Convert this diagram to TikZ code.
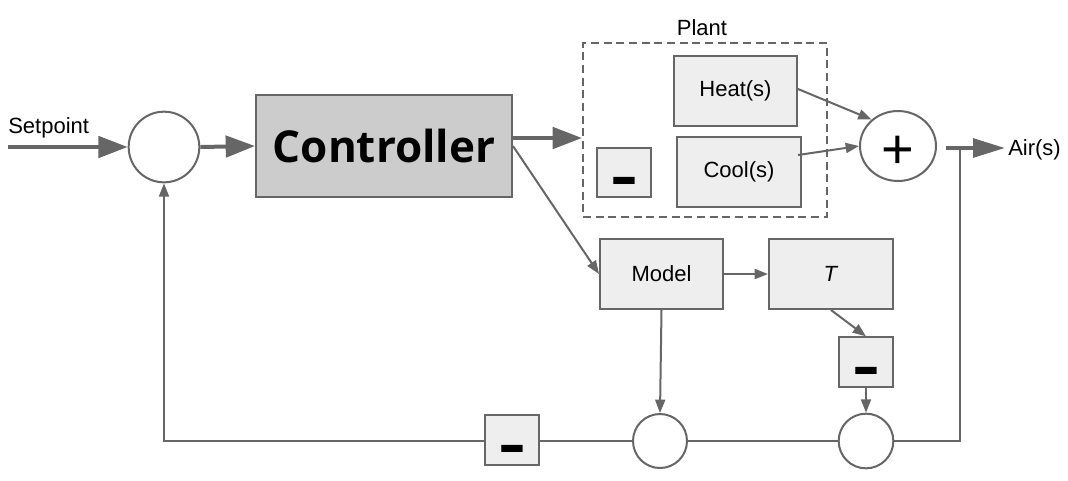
\documentclass[tikz,border=0pt]{standalone}
\usepackage{fontspec}
\usepackage{graphicx}
\setmainfont{Liberation Sans}
\newfontfamily\ctrlfont{Open Sans}
\usetikzlibrary{arrows.meta,shapes.geometric}
\definecolor{ln}{HTML}{666666}
\definecolor{bx}{HTML}{EEEEEE}
\definecolor{cb}{HTML}{CCCCCC}
\tikzset{
  lbl/.style={font=\fontsize{16.5pt}{19pt}\selectfont, text=black},
  blk/.style={draw=ln, line width=1.5pt, fill=bx, inner sep=0pt, lbl},
  minusbox/.style={blk, minimum width=40.5pt, minimum height=37pt, font=\fontsize{45pt}{50pt}\selectfont\bfseries},
  sumc/.style={draw=ln, line width=1.5pt, fill=white, circle, inner sep=0pt},
  thin/.style={draw=ln, line width=1.5pt},
  thinarr/.style={thin, -{Triangle[length=10pt,width=7.5pt]}},
  thick/.style={draw=ln, line width=3pt},
  thickarr/.style={thick, -{Triangle[length=22pt,width=16pt]}},
}
\newcommand{\minustxt}{\raisebox{-18pt}[0pt][0pt]{\scalebox{1.4}[1]{-}}}
\begin{document}
\begin{tikzpicture}[x=0.75pt,y=-0.75pt]
\useasboundingbox (0,0) rectangle (1068,480);
% nodes
\node[sumc, minimum size=53pt] (c1) at (164,147) {};
\node[blk, fill=cb, minimum width=192pt, minimum height=76.5pt,
      font=\ctrlfont\fontsize{33pt}{38pt}\selectfont\bfseries] (ctrl) at (384,146) {Controller};
\node[draw=ln, line width=1.5pt, dash pattern=on 6pt off 3.5pt, minimum width=183pt, minimum height=130.5pt, inner sep=0pt] (plant) at (705,130) {};
\node[lbl, anchor=center] (plantlbl) at (702,28) {Plant};
\node[blk, minimum width=92.25pt, minimum height=52.5pt] (heat) at (735.5,91) {Heat(s)};
\node[blk, minimum width=93pt, minimum height=52.5pt] (cool) at (739,172) {Cool(s)};
\node[minusbox] (m1) at (624,172.5) {\minustxt};
\node[sumc, ellipse, minimum width=57pt, minimum height=52.5pt,
      font=\fontsize{42pt}{46pt}\selectfont] (plus) at (898,146) {\raisebox{-16.5pt}[0pt][0pt]{+}};
\node[blk, minimum width=92.25pt, minimum height=52.5pt] (model) at (661.5,274) {Model};
\node[blk, minimum width=93pt, minimum height=52.5pt] (tb) at (831,274) {\textit{T}};
\node[minusbox] (m2) at (866,362) {\minustxt};
\node[sumc, minimum size=40.5pt] (b1) at (660,441) {};
\node[sumc, minimum size=41pt] (b2) at (866,441) {};
\node[minusbox] (m3) at (512,440) {\minustxt};
\node[lbl, anchor=base west, inner sep=0pt] (sp) at (8,133) {Setpoint};
\node[lbl, anchor=base west, inner sep=0pt] (air) at (1008,155) {Air(s)};
\coordinate (spin) at (8,147);
\coordinate (airtip) at (1005,148);
\coordinate (j) at (960,148);
% connectors
\draw[thickarr] (spin) -- (c1.west);
\draw[thickarr] (c1.east) -- (ctrl.west);
\draw[thickarr] ([yshift=6pt]ctrl.east) -- ([yshift=6pt]ctrl.east -| plant.west);
\draw[thinarr] (ctrl.east) -- (model.west);
\draw[thinarr] ([yshift=1.5pt]heat.east) -- (plus.135);
\draw[thinarr] ([yshift=12.75pt,xshift=-3pt]cool.east) -- (plus.west);
\draw[thick, -{Triangle[length=24pt,width=14pt]}, shorten <=6.75pt] (plus.east |- airtip) -- (airtip);
\draw[thin] (j) -- (j |- b2) -- (b2.east);
\draw[thin] (b2.west) -- (b1.east);
\draw[thin] (b1.west) -- (b1.west -| m3.east);
\draw[thinarr] (b1.west -| m3.west) -- (c1 |- b1) -- (c1.south);
\draw[thinarr] (model.south) -- (b1.north);
\draw[thinarr] (model.east) -- (tb.west);
\draw[thinarr] (tb.south) -- (m2.north);
\draw[thinarr] (m2.south) -- (b2.north);
\end{tikzpicture}
\end{document}
